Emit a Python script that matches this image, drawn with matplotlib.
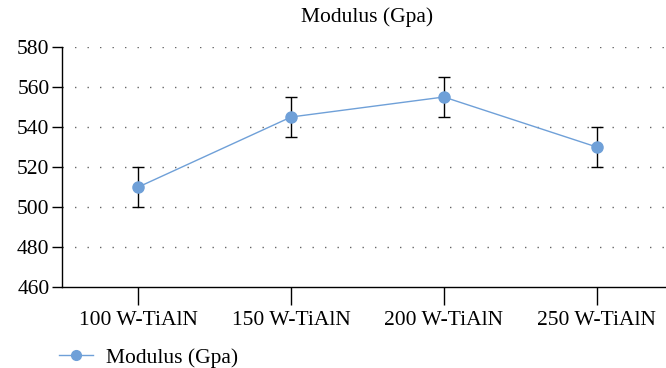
import matplotlib
matplotlib.use("Agg")
from matplotlib import pyplot as plt
from matplotlib.lines import Line2D
from matplotlib.ticker import MultipleLocator

plt.rcParams['font.family'] = ['Liberation Serif', 'DejaVu Serif']

# data
categories = ['100 W-TiAlN', '150 W-TiAlN', '200 W-TiAlN', '250 W-TiAlN']
modulus = [510, 545, 555, 530]
modulus_err = [10, 10, 10, 10]

color = '#6fa0d8'
fs = 15.5

fig = plt.figure(figsize=(6.66, 3.68), dpi=100)
ax = fig.add_axes([62/666, 81/368, 611/666, 240/368])

x = range(len(categories))
ax.errorbar(x, modulus, yerr=modulus_err, color=color, linewidth=1.0,
            marker='o', markersize=8, ecolor='black', elinewidth=1.0,
            capsize=4, capthick=1.0, zorder=3)

ax.set_xlim(-0.5, 3.5)
ax.set_ylim(460, 580)
ax.yaxis.set_major_locator(MultipleLocator(20))
ax.set_xticks(list(x))
ax.set_xticklabels(categories)

for v in range(480, 581, 20):
    ax.axhline(v, color='#666666', linestyle=(0, (1, 8)), linewidth=1.0,
               zorder=1)

ax.spines['top'].set_visible(False)
ax.spines['right'].set_visible(False)
ax.spines['left'].set_linewidth(1.0)
ax.spines['bottom'].set_linewidth(1.0)
ax.tick_params(axis='x', length=13, width=1.0, pad=4, labelsize=fs)
ax.tick_params(axis='y', length=7, width=1.0, pad=2, labelsize=fs)

ax.set_title('Modulus (Gpa)', fontsize=fs, pad=18)

handle = Line2D([], [], color=color, linewidth=1.0, marker='o', markersize=7)
fig.legend([handle], ['Modulus (Gpa)'], loc='lower left',
           bbox_to_anchor=(46/666, -0.035), frameon=False,
           fontsize=fs, handlelength=1.6, handletextpad=0.6,
           borderaxespad=0.2)

fig.savefig('out.png', dpi=100)
